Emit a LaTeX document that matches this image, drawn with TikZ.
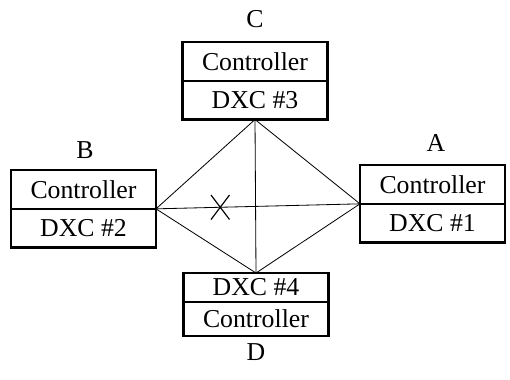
\documentclass[tikz,border=0pt]{standalone}
\usepackage{fontspec}
\setmainfont{Liberation Serif}
\usepackage{tikz}
\usetikzlibrary{positioning}
\usetikzlibrary{shapes.misc}

\tikzset{
	half/.style={draw,line width=1.8pt,rectangle,inner sep=0pt,outer sep=0pt,
		minimum width=4.35cm,minimum height=1.16cm},
	link/.style={line width=0.7pt},
	station/.style={inner sep=0pt}
}

\begin{document}
\begin{tikzpicture}[x=0.03cm,y=-0.03cm,font=\fontsize{22}{26}\selectfont]
	\useasboundingbox (0,0) rectangle (510,379);
	% the four cross-connects, controller on the outer side
	\node[half] (cC) at (255,61.5) {Controller};
	\node[half,below=0pt of cC] (dC) {DXC \#3};
	\node[half] (cB) at (83.5,189.5) {Controller};
	\node[half,below=0pt of cB] (dB) {DXC \#2};
	\node[half] (cA) at (432.5,184.5) {Controller};
	\node[half,below=0pt of cA] (dA) {DXC \#1};
	\node[half,minimum height=0.87cm] (dD) at (256,287.5) {DXC \#4};
	\node[half,minimum height=1.02cm,below=0pt of dD] (cD) {Controller};
	% site letters
		\node[station] (labC) at (255,19) {C};
		\node[station] (labB) at (85,150) {B};
		\node[station] (labA) at (436,143) {A};
		\node[station] (labD) at (256,352) {D};
	% full mesh of links
	\draw[link] (dC.south) -- (dB.north east);
	\draw[link] (dC.south) -- (dA.north west);
	\draw[link] (dC.south) -- (dD.north);
	\draw[link] (dB.north east) -- (dA.north west) coordinate[pos=0.315] (cut);
	\draw[link] (dB.north east) -- (dD.north);
	\draw[link] (dA.north west) -- (dD.north);
	% failed span
	\node[cross out,draw,line width=1pt,inner sep=0pt,minimum width=0.52cm,minimum height=0.7cm] (fail) at (cut) {};
\end{tikzpicture}
\end{document}
